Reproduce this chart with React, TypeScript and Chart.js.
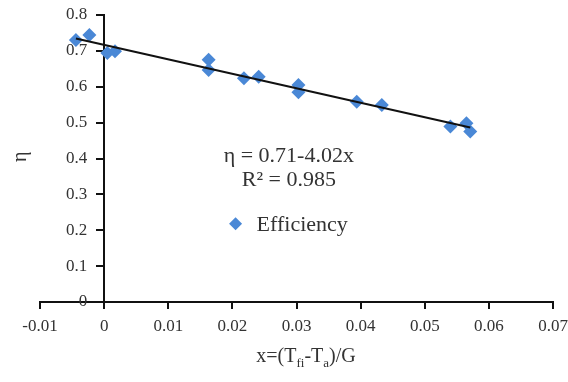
import React, { useEffect, useRef } from "react";
import { Chart, registerables } from "chart.js";

Chart.register(...registerables);

const xValues = [-0.0044, -0.0023, 0.0005, 0.0017, 0.0163, 0.0163, 0.0218, 0.0241, 0.0303, 0.0303, 0.0394, 0.0433, 0.054, 0.0565, 0.0571];
const etaValues = [0.73, 0.744, 0.694, 0.699, 0.675, 0.647, 0.624, 0.628, 0.605, 0.585, 0.558, 0.549, 0.489, 0.498, 0.475];
const xTicks = [-0.01, 0, 0.01, 0.02, 0.03, 0.04, 0.05, 0.06, 0.07];
const xTickLabels = ["-0.01", "0", "0.01", "0.02", "0.03", "0.04", "0.05", "0.06", "0.07"];
const yTicks = [0, 0.1, 0.2, 0.3, 0.4, 0.5, 0.6, 0.7, 0.8];
const yTickLabels = ["0", "0.1", "0.2", "0.3", "0.4", "0.5", "0.6", "0.7", "0.8"];
const seriesName = "Efficiency";
const equationText = "η = 0.71-4.02x";
const r2Text = "R² = 0.985";

const FONT = "'Liberation Serif', 'Times New Roman', serif";
const TEXT = "#333";
const BLUE = "#4a88d6";

function regression(xs: number[], ys: number[]) {
  const n = xs.length;
  const mx = xs.reduce((a, b) => a + b, 0) / n;
  const my = ys.reduce((a, b) => a + b, 0) / n;
  let sxy = 0, sxx = 0;
  for (let i = 0; i < n; i++) {
    sxy += (xs[i] - mx) * (ys[i] - my);
    sxx += (xs[i] - mx) * (xs[i] - mx);
  }
  const slope = sxy / sxx;
  return { slope, intercept: my - slope * mx };
}

const annotationPlugin = {
  id: "annotations",
  afterDraw(chart: any) {
    const ctx = chart.ctx;
    const xs = chart.scales.x;
    const ys = chart.scales.y;
    ctx.save();
    ctx.fillStyle = TEXT;
    // y title
    ctx.save();
    ctx.translate(21, ys.getPixelForValue(0.405));
    ctx.rotate(-Math.PI / 2);
    ctx.font = `20px ${FONT}`;
    ctx.textAlign = "center";
    ctx.textBaseline = "middle";
    ctx.fillText("η", 0, 0);
    ctx.restore();

    // x title with subscripts
    const big = `20px ${FONT}`;
    const small = `13px ${FONT}`;
    const parts: [string, boolean][] = [["x=(T", false], ["fi", true], ["-T", false], ["a", true], [")/G", false]];
    let total = 0;
    for (const [t, s] of parts) {
      ctx.font = s ? small : big;
      total += ctx.measureText(t).width;
    }
    let cx = 306 - total / 2;
    const baseY = 362;
    ctx.textAlign = "left";
    ctx.textBaseline = "alphabetic";
    for (const [t, s] of parts) {
      ctx.font = s ? small : big;
      ctx.fillText(t, cx, s ? baseY + 5 : baseY);
      cx += ctx.measureText(t).width;
    }

    // equation
    ctx.font = `22px ${FONT}`;
    ctx.textAlign = "center";
    ctx.textBaseline = "middle";
    const ex = xs.getPixelForValue(0.0288);
    ctx.fillText(equationText, ex, ys.getPixelForValue(0.405));
    ctx.fillText(r2Text, ex, ys.getPixelForValue(0.34));

    // legend
    const lx = xs.getPixelForValue(0.0205);
    const ly = ys.getPixelForValue(0.218);
    ctx.fillStyle = BLUE;
    ctx.beginPath();
    ctx.moveTo(lx, ly - 6.5);
    ctx.lineTo(lx + 6.5, ly);
    ctx.lineTo(lx, ly + 6.5);
    ctx.lineTo(lx - 6.5, ly);
    ctx.closePath();
    ctx.fill();
    ctx.fillStyle = TEXT;
    ctx.textAlign = "left";
    ctx.font = `22px ${FONT}`;
    ctx.fillText(seriesName, lx + 21, ly + 1);
    ctx.restore();
  },
};

const zeroPadding = (scale: any) => {
  scale.paddingTop = 0;
  scale.paddingBottom = 0;
  scale.paddingLeft = 0;
  scale.paddingRight = 0;
};

export default function App() {
  const ref = useRef<HTMLCanvasElement | null>(null);
  useEffect(() => {
    document.body.style.margin = "0";
    const points = xValues.map((x, i) => ({ x, y: etaValues[i] }));
    const { slope, intercept } = regression(xValues, etaValues);
    const xmin = Math.min(...xValues);
    const xmax = Math.max(...xValues);
    const trend = [
      { x: xmin, y: intercept + slope * xmin },
      { x: xmax, y: intercept + slope * xmax },
    ];
    const tickFont = { family: FONT, size: 17 };
    const chart = new Chart(ref.current!, {
      type: "scatter",
      data: {
        datasets: [
          {
            label: "Trend",
            data: trend,
            showLine: true,
            borderColor: "#111",
            borderWidth: 2,
            pointRadius: 0,
            order: 0,
          },
          {
            label: seriesName,
            data: points,
            pointStyle: "rectRot",
            pointRadius: 7,
            backgroundColor: BLUE,
            borderColor: BLUE,
            borderWidth: 0,
            order: 1,
          },
        ],
      },
      options: {
        animation: false,
        responsive: false,
        maintainAspectRatio: false,
        layout: { padding: { left: 40, right: 15, top: 15, bottom: 80 } },
        plugins: { legend: { display: false }, tooltip: { enabled: false } },
        scales: {
          x: {
            type: "linear",
            min: -0.01,
            max: 0.07,
            position: { y: 0 } as any,
            afterBuildTicks: (scale: any) => {
              scale.ticks = xTicks.map((v) => ({ value: v }));
            },
            afterFit: zeroPadding,
            ticks: {
              callback: (v: any) => xTickLabels[xTicks.findIndex((t) => Math.abs(t - v) < 1e-9)] ?? "",
              font: tickFont,
              color: TEXT,
              padding: 8,
              maxRotation: 0,
            },
            grid: { drawOnChartArea: false, drawTicks: true, tickLength: 6, color: "#111", lineWidth: 2 },
            border: { display: true, color: "#111", width: 2 },
          },
          y: {
            type: "linear",
            min: 0,
            max: 0.8,
            position: { x: 0 } as any,
            afterBuildTicks: (scale: any) => {
              scale.ticks = yTicks.map((v) => ({ value: v }));
            },
            afterFit: zeroPadding,
            afterUpdate: (scale: any) => {
              const orig = scale._computeLabelItems;
              if (typeof orig !== "function") return;
              scale._computeLabelItems = function (ca: any) {
                const items = orig.call(this, ca);
                items.forEach((it: any) => {
                  if (it.options && it.options.translation) {
                    it.options.translation = [it.options.translation[0] - 17, it.options.translation[1]];
                  }
                });
                return items;
              };
            },
            ticks: {
              callback: (v: any) => yTickLabels[yTicks.findIndex((t) => Math.abs(t - v) < 1e-9)] ?? "",
              font: tickFont,
              color: TEXT,
              padding: 10,
            },
            grid: { drawOnChartArea: false, drawTicks: true, tickLength: 7, color: "#111", lineWidth: 2 },
            border: { display: true, color: "#111", width: 2 },
          },
        },
      },
      plugins: [annotationPlugin],
    });
    return () => chart.destroy();
  }, []);
  return <canvas ref={ref} width={568} height={382} style={{ display: "block", width: 568, height: 382 }} />;
}
